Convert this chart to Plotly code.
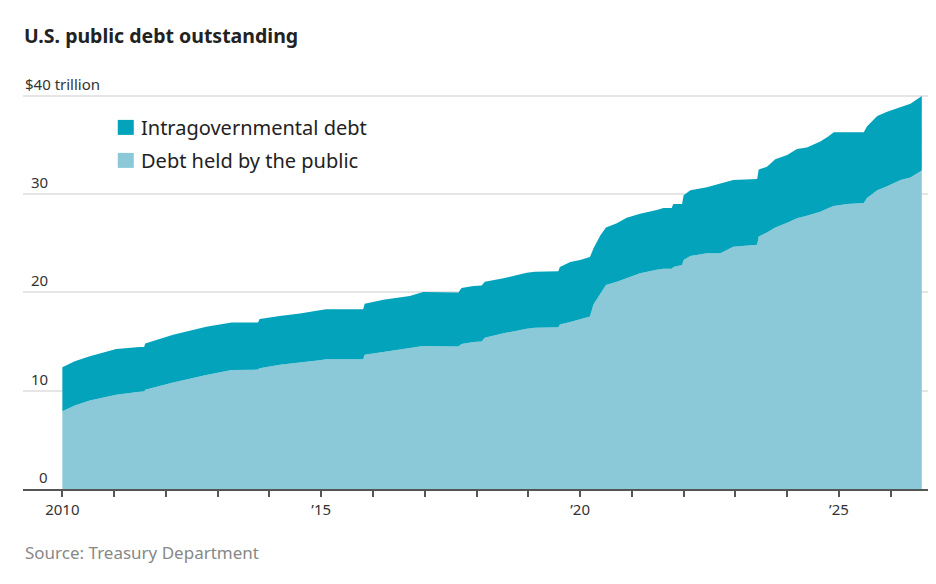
import plotly.graph_objects as go

# 데이터 (그림에서 읽은 값, 단위: 조 달러)
years = [
    2010.00, 2010.24, 2010.53, 2010.85, 2011.04, 2011.49, 2011.58, 2011.60,
    2012.14, 2012.78, 2013.27, 2013.78, 2013.81, 2014.20, 2014.59, 2014.97,
    2015.10, 2015.81, 2015.84, 2016.20, 2016.71, 2016.97, 2017.65, 2017.71,
    2017.94, 2018.10, 2018.16, 2018.52, 2018.97, 2019.13, 2019.58, 2019.61,
    2019.81, 2020.00, 2020.19, 2020.26, 2020.39, 2020.50, 2020.71, 2020.90,
    2021.16, 2021.48, 2021.61, 2021.77, 2021.80, 2021.97, 2022.00, 2022.13,
    2022.45, 2022.71, 2022.96, 2023.42, 2023.45, 2023.61, 2023.77, 2024.00,
    2024.19, 2024.38, 2024.64, 2024.80, 2024.90, 2025.16, 2025.48, 2025.54,
    2025.74, 2025.93, 2026.19, 2026.38, 2026.60,
]
total_debt = [
    12.4, 13.0, 13.5, 14.0, 14.25, 14.45, 14.45, 14.8,
    15.7, 16.5, 16.95, 16.95, 17.3, 17.6, 17.85, 18.2,
    18.3, 18.3, 18.85, 19.25, 19.65, 20.05, 20.0, 20.45,
    20.65, 20.7, 21.1, 21.45, 22.0, 22.1, 22.15, 22.6,
    23.1, 23.3, 23.6, 24.5, 25.8, 26.6, 27.05, 27.6,
    28.0, 28.4, 28.6, 28.6, 29.0, 29.0, 29.9, 30.4,
    30.7, 31.1, 31.45, 31.55, 32.5, 32.8, 33.55, 34.0,
    34.6, 34.75, 35.35, 35.9, 36.3, 36.3, 36.3, 36.9,
    37.95, 38.4, 38.9, 39.2, 40.0,
]
public_debt = [
    7.9, 8.5, 9.0, 9.4, 9.6, 9.9, 9.95, 10.1,
    10.85, 11.6, 12.1, 12.15, 12.3, 12.65, 12.85, 13.1,
    13.2, 13.2, 13.65, 13.95, 14.4, 14.55, 14.5, 14.75,
    14.95, 15.0, 15.4, 15.85, 16.3, 16.4, 16.45, 16.75,
    17.0, 17.3, 17.55, 18.8, 19.9, 20.75, 21.1, 21.45,
    21.95, 22.3, 22.4, 22.4, 22.6, 22.8, 23.3, 23.7,
    24.0, 24.0, 24.65, 24.85, 25.7, 26.1, 26.6, 27.1,
    27.55, 27.8, 28.2, 28.6, 28.8, 29.0, 29.1, 29.6,
    30.4, 30.8, 31.45, 31.7, 32.4,
]

x_tickvals = [2010, 2015, 2020, 2025]
x_ticktext = ["2010", "’15", "’20", "’25"]
y_tickvals = [0, 10, 20, 30, 40]
y_ticktext = ["0", "10", "20", "30", "$40 trillion"]

series_names = ["Intragovernmental debt", "Debt held by the public"]

DARK = "#02a3bb"
LIGHT = "#8bc9d8"
FONT = "Noto Sans, sans-serif"

# 페이지 body 여백(8px) 보정: 창 픽셀 -> 그림 픽셀
OFF = 8
W, H = 936 - OFF, 584 - OFF
Y_MAX = 40.5
L, R, BOT = 23.3 - OFF, 927.7 - OFF, 489.3 - OFF
TOP = 96.0 - OFF - (Y_MAX - 40) * 9.833

def px(p):
    return (p - OFF - L) / (R - L)
def py(p):
    return (BOT - (p - OFF)) / (BOT - TOP)

fig = go.Figure()
fig.add_trace(go.Scatter(
    x=years, y=public_debt, mode="lines", line=dict(width=0),
    fill="tozeroy", fillcolor=LIGHT, name=series_names[1], showlegend=False,
))
fig.add_trace(go.Scatter(
    x=years, y=total_debt, mode="lines", line=dict(width=0),
    fill="tonexty", fillcolor=DARK, name=series_names[0], showlegend=False,
))

# y축 라벨 (그리드선 위)
annotations = []
for v, t in zip(y_tickvals, y_ticktext):
    if t.startswith("$"):
        annotations.append(dict(x=px(23), xanchor="left"))
    else:
        annotations.append(dict(x=px(50), xanchor="right"))
    annotations[-1].update(
        xref="paper", yref="y", y=v, yanchor="bottom", yshift=0,
        text=t, showarrow=False, font=dict(family=FONT, size=15, color="#333"),
    )

# 범례 (직접 그림)
shapes = []
for i, (name, col) in enumerate(zip(series_names, [DARK, LIGHT])):
    top = 120 + i * 33
    shapes.append(dict(type="rect", xref="paper", yref="paper",
                       x0=px(118), x1=px(134), y0=py(top + 15), y1=py(top),
                       fillcolor=col, line=dict(width=0)))
    annotations.append(dict(xref="paper", yref="paper", x=px(139), y=py(top + 7.5),
                            xanchor="left", yanchor="middle", text=name, showarrow=False,
                            font=dict(family=FONT, size=20, color="#222")))

annotations.append(dict(xref="paper", yref="paper", x=px(23), y=py(553),
                        xanchor="left", yanchor="middle", text="Source: Treasury Department",
                        showarrow=False, font=dict(family=FONT, size=17, color="#888")))

fig.update_layout(
    width=W, height=H,
    margin=dict(l=L, r=W - R, t=TOP, b=H - BOT, pad=0),
    paper_bgcolor="white", plot_bgcolor="white",
    title=dict(text="<b>U.S. public debt outstanding</b>", xref="container", yref="container",
               x=(24 - OFF) / W, xanchor="left", y=1 - (36 - OFF) / H, yanchor="middle",
               font=dict(family=FONT, size=19.5, color="#222")),
    annotations=annotations, shapes=shapes,
    xaxis=dict(range=[2009.24, 2026.72], tickvals=x_tickvals, ticktext=x_ticktext,
               ticks="outside", ticklen=6, tickwidth=1.5, tickcolor="#555",
               minor=dict(dtick=1, tick0=2010, ticks="outside", ticklen=6,
                          tickwidth=1.5, tickcolor="#555", showgrid=False),
               showline=True, linecolor="#555", linewidth=2, showgrid=False,
               zeroline=False, tickfont=dict(family=FONT, size=15, color="#333"),
               fixedrange=True),
    yaxis=dict(range=[0, Y_MAX], tickvals=y_tickvals, showticklabels=False,
               showgrid=True, gridcolor="rgba(0,0,0,0.1)", gridwidth=1.5,
               zeroline=False, layer="above traces", fixedrange=True),
)

fig.write_html("out.html")
